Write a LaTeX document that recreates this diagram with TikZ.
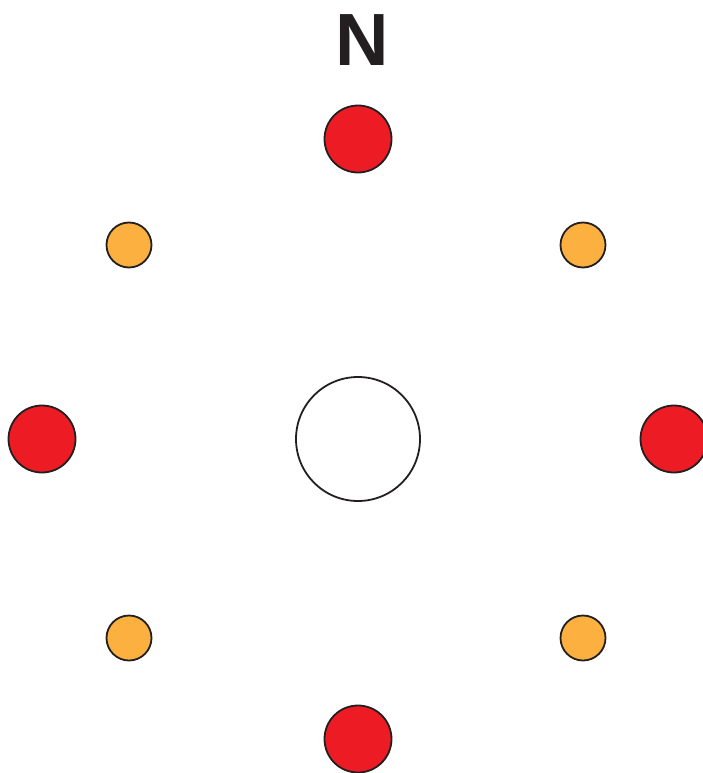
\documentclass[tikz,border=0pt]{standalone}
\usepackage{fontspec}
\setmainfont{Liberation Sans}
\definecolor{rd}{HTML}{ED1C24}
\definecolor{og}{HTML}{FBB040}
\definecolor{ink}{HTML}{231F20}
\begin{document}
\begin{tikzpicture}[x=1pt,y=-1pt,
  dot/.style={circle,draw=ink,line width=1.8pt,inner sep=0pt},
  reddot/.style={dot,fill=rd,minimum size=67pt},
  orgdot/.style={dot,fill=og,minimum size=45pt}]
\useasboundingbox (0,0) rectangle (703,773);
\begin{scope}
\clip (0,0) rectangle (703,773);
\node[font=\bfseries\fontsize{74}{74}\selectfont,text=ink,inner sep=0pt,anchor=base] (n) at (362,66) {N};
\node[dot,fill=white,minimum size=124pt] (c) at (358,439) {};
\node[reddot] (rt) at (358,139) {};
\node[reddot] (rl) at (42,439) {};
\node[reddot] (rr) at (674,439) {};
\node[reddot] (rb) at (358,739) {};
\node[orgdot] (o1) at (129,245) {};
\node[orgdot] (o2) at (583,245) {};
\node[orgdot] (o3) at (129,638) {};
\node[orgdot] (o4) at (583,638) {};
\end{scope}
\end{tikzpicture}
\end{document}
